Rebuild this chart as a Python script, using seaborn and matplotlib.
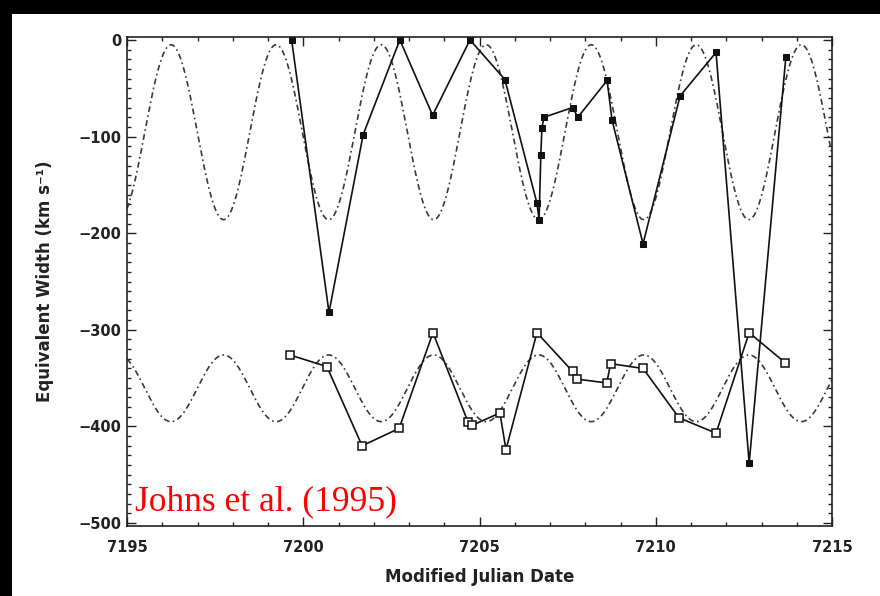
import numpy as np
import pandas as pd
import matplotlib
matplotlib.use("Agg")
import matplotlib.pyplot as plt
from matplotlib.patches import Rectangle
from matplotlib.ticker import MultipleLocator
import seaborn as sns

# ---- data ----
# upper series (filled squares)
t_upper = [7199.67, 7200.73, 7201.70, 7202.74, 7203.67, 7204.73, 7205.72,
           7206.63, 7206.69, 7206.74, 7206.77, 7206.83, 7207.64, 7207.79,
           7208.62, 7208.76, 7209.64, 7210.69, 7211.71, 7212.65, 7213.69]
w_upper = [0, -282, -98, 0, -78, 0, -41,
           -169, -186, -119, -91, -80, -70, -80,
           -42, -83, -211, -58, -13, -438, -18]

# lower series (open squares)
t_lower = [7199.62, 7200.67, 7201.67, 7202.72, 7203.68, 7204.67, 7204.78,
           7205.58, 7205.75, 7206.63, 7207.64, 7207.77, 7208.61, 7208.72,
           7209.64, 7210.66, 7211.71, 7212.65, 7213.67]
w_lower = [-326, -338, -420, -402, -303, -395, -399,
           -386, -424, -303, -343, -351, -355, -335,
           -340, -391, -407, -303, -334]

# sinusoidal model curves (dash-dot), parameters
model_period = 2.98
model_peak_time = 7196.25
upper_mean, upper_amp = -95.5, 90.5
lower_mean, lower_amp = -360.5, 34.5

x_ticks = [7195, 7200, 7205, 7210, 7215]
y_ticks = [0, -100, -200, -300, -400, -500]

# ---- figure ----
sns.set_theme(style="ticks")
plt.rcParams['font.family'] = ['DejaVu Sans']

fig = plt.figure(figsize=(8.8, 5.96), dpi=100, facecolor='white')
ax = fig.add_axes([127/880, 1 - 526/596, (832-127)/880, (526-37)/596])

tm = np.linspace(7195, 7215, 1200)
phase = 2*np.pi*(tm - model_peak_time)/model_period
model = pd.DataFrame({
    't': np.concatenate([tm, tm]),
    'w': np.concatenate([upper_mean + upper_amp*np.cos(phase),
                         lower_mean - lower_amp*np.cos(phase)]),
    'curve': ['upper']*len(tm) + ['lower']*len(tm),
})
for name in ['upper', 'lower']:
    sub = model[model['curve'] == name]
    sns.lineplot(data=sub, x='t', y='w', ax=ax, color='#3a3a3a', lw=1.2,
                 sort=False, estimator=None, dashes=False)
for line in ax.get_lines():
    line.set_dashes([3.5, 2, 1, 2])

up = pd.DataFrame({'t': t_upper, 'w': w_upper})
lo = pd.DataFrame({'t': t_lower, 'w': w_lower})
sns.lineplot(data=up, x='t', y='w', ax=ax, sort=False, estimator=None,
             color='#111111', lw=1.2, marker='s', markersize=4.6,
             markerfacecolor='#111111', markeredgecolor='#111111', clip_on=False)
sns.lineplot(data=lo, x='t', y='w', ax=ax, sort=False, estimator=None,
             color='#111111', lw=1.2, marker='s', markersize=6.0,
             markerfacecolor='white', markeredgecolor='#111111',
             markeredgewidth=1.1, clip_on=False)

ax.set_xlim(7195, 7215)
ax.set_ylim(-503, 3)
ax.set_xticks(x_ticks)
ax.set_yticks(y_ticks)
ax.set_xticklabels([str(v) for v in x_ticks])
ax.set_yticklabels([str(v).replace('-', '\u2212') for v in y_ticks])
ax.xaxis.set_minor_locator(MultipleLocator(1))
ax.yaxis.set_minor_locator(MultipleLocator(10))
ax.tick_params(which='both', direction='in', top=True, right=True,
               color='#222222', width=1.0)
ax.tick_params(which='major', length=6.5)
ax.tick_params(which='minor', length=3.2)
ax.tick_params(axis='x', which='major', pad=10, labelsize=10.5)
ax.tick_params(axis='y', which='major', pad=4, labelsize=10.5)
for lab in ax.get_xticklabels() + ax.get_yticklabels():
    lab.set_fontweight('bold')
    lab.set_color('#222222')
for sp in ax.spines.values():
    sp.set_linewidth(1.2)
    sp.set_color('#222222')

ax.set_xlabel('Modified Julian Date', fontsize=12, fontweight='bold', color='#222222')
ax.set_ylabel('Equivalent Width (km s\u207b\u00b9)', fontsize=12, fontweight='bold',
              color='#222222')
ax.xaxis.set_label_coords(0.5, -0.085)
ax.yaxis.set_label_coords(-0.104, 0.5)

fig.text(135/880, 1 - 510/596, 'Johns et al. (1995)', color='#ff0000',
         fontsize=25.5, family='Liberation Serif', va='baseline', ha='left')

# black border strips at top and left, as in the reference image
fig.patches.append(Rectangle((0, 1 - 14/596), 1, 14/596, transform=fig.transFigure,
                             facecolor='black', edgecolor='none', zorder=10))
fig.patches.append(Rectangle((0, 0), 12/880, 1, transform=fig.transFigure,
                             facecolor='black', edgecolor='none', zorder=10))

fig.savefig('out.png', dpi=100, facecolor='white')
